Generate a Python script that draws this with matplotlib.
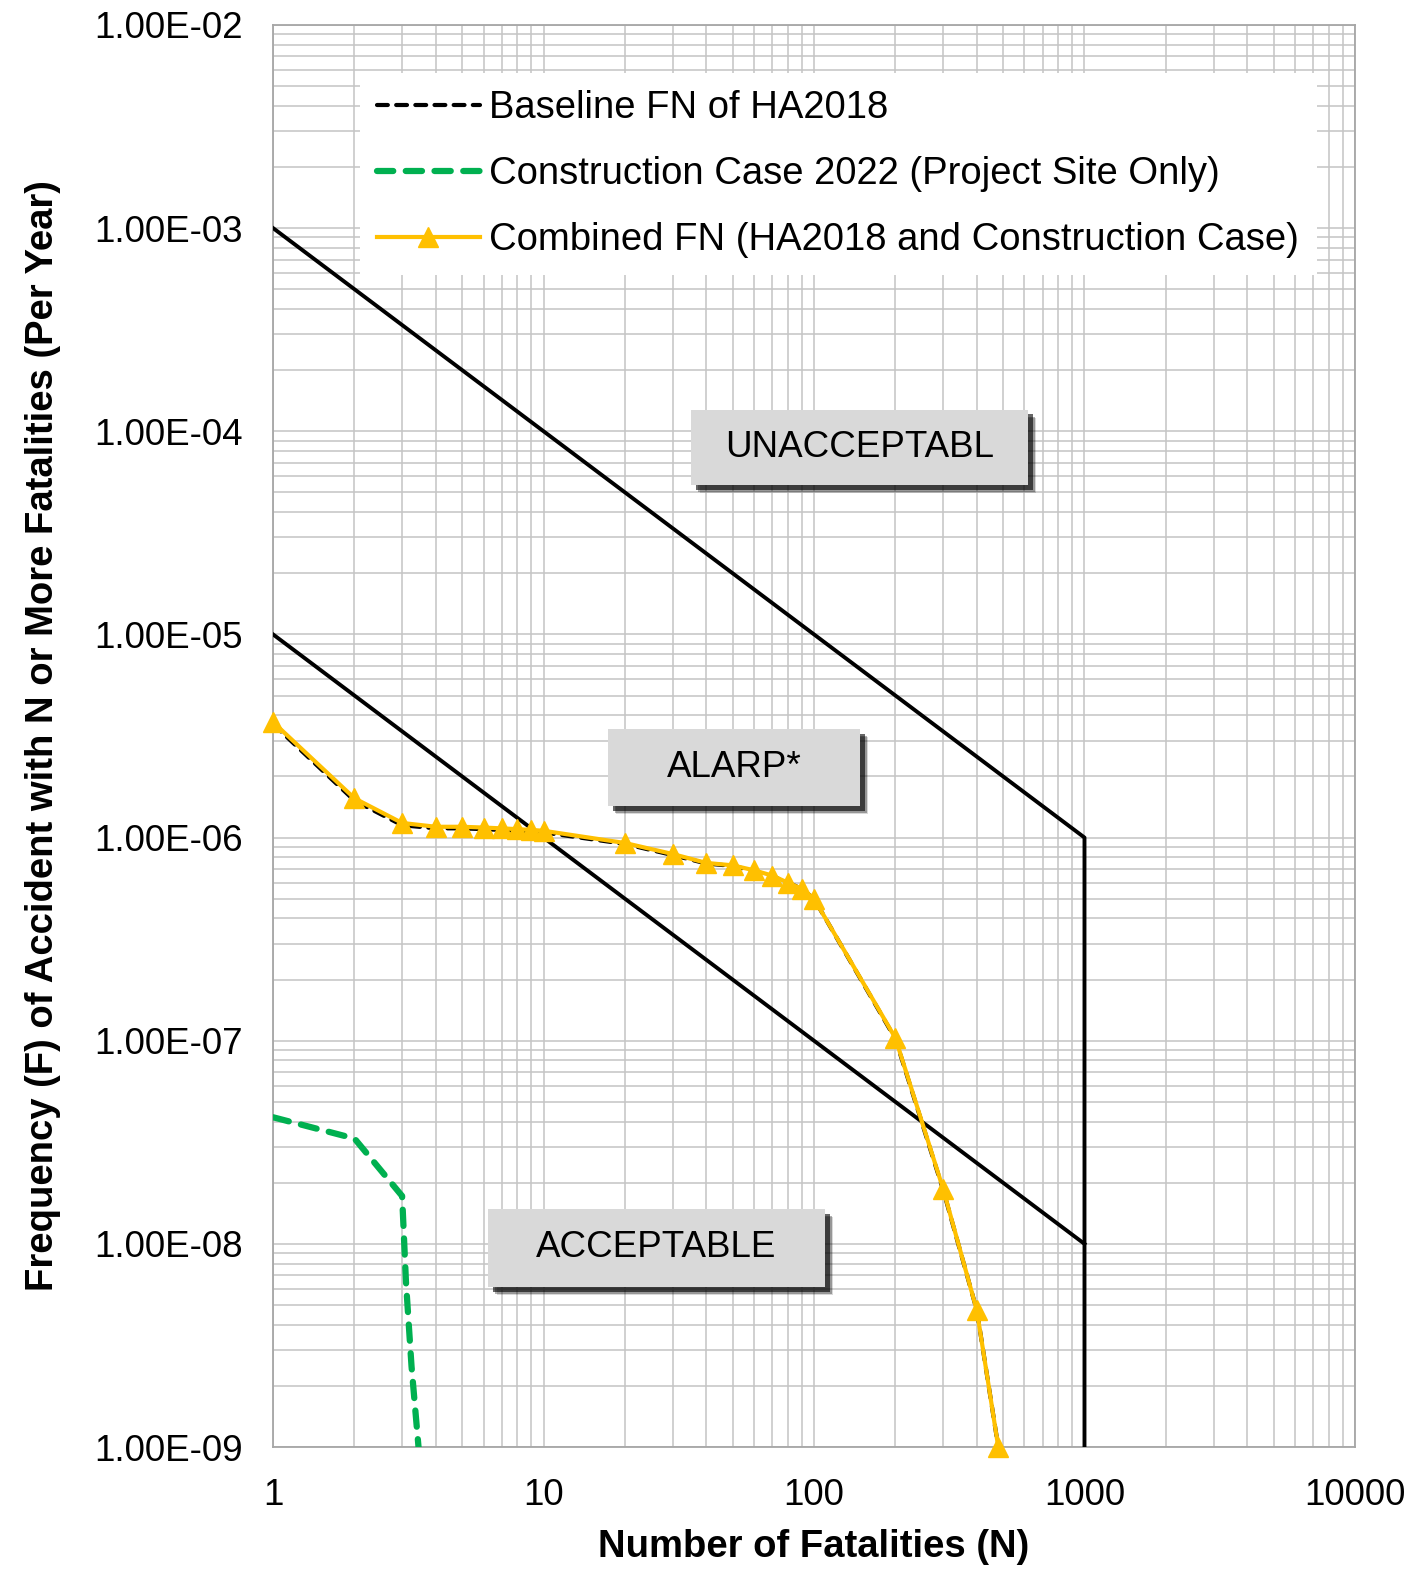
import matplotlib.pyplot as plt
import matplotlib.patheffects as pe
from matplotlib.patches import Rectangle
from matplotlib.ticker import FuncFormatter, LogLocator, FixedLocator

plt.rcParams['font.family'] = ['Liberation Sans', 'DejaVu Sans']

# FN curves
n_fn = [1, 2, 3, 4, 5, 6, 7, 8, 9, 10, 20, 30, 40, 50, 60, 70, 80, 90, 100, 200, 300, 400, 480]
f_base = [3.62e-6, 1.52e-6, 1.15e-6, 1.11e-6, 1.11e-6, 1.10e-6, 1.09e-6, 1.08e-6, 1.07e-6, 1.06e-6,
          9.3e-7, 8.2e-7, 7.45e-7, 7.25e-7, 6.85e-7, 6.45e-7, 6.0e-7, 5.6e-7, 5.0e-7,
          1.02e-7, 1.85e-8, 4.7e-9, 1.0e-9]
f_comb = [3.70e-6, 1.56e-6, 1.18e-6, 1.13e-6, 1.13e-6, 1.12e-6, 1.11e-6, 1.10e-6, 1.09e-6, 1.08e-6,
          9.4e-7, 8.3e-7, 7.5e-7, 7.3e-7, 6.9e-7, 6.5e-7, 6.0e-7, 5.6e-7, 5.0e-7,
          1.03e-7, 1.87e-8, 4.7e-9, 1.0e-9]

n_con = [1, 2, 3, 3.1, 3.25, 3.5]
f_con = [4.2e-8, 3.3e-8, 1.72e-8, 6.5e-9, 2.5e-9, 8e-10]

# criterion lines
n_upper = [1, 1000, 1000]
f_upper = [1e-3, 1e-6, 1e-9]
n_lower = [1, 1000]
f_lower = [1e-5, 1e-8]

x_ticks = [1, 10, 100, 1000, 10000]
y_ticks = [1e-9, 1e-8, 1e-7, 1e-6, 1e-5, 1e-4, 1e-3, 1e-2]

fig = plt.figure(figsize=(14.2, 15.78), dpi=100)
ax = fig.add_axes([0.1923, 0.0830, 0.7619, 0.9012])
ax.set_xscale('log')
ax.set_yscale('log')
ax.set_xlim(1, 10000)
ax.set_ylim(1e-9, 1e-2)

gc = '#c4c4c4'
ax.xaxis.set_major_locator(FixedLocator(x_ticks))
ax.yaxis.set_major_locator(FixedLocator(y_ticks))
ax.xaxis.set_minor_locator(LogLocator(base=10, subs=range(2, 10), numticks=20))
ax.yaxis.set_minor_locator(LogLocator(base=10, subs=range(2, 10), numticks=20))
ax.grid(True, which='both', color=gc, linewidth=1.1)
ax.set_axisbelow(True)
for s in ax.spines.values():
    s.set_color('#a6a6a6')
    s.set_linewidth(1.3)
ax.tick_params(which='both', length=0)
ax.tick_params(axis='x', pad=22, labelsize=26.5)
ax.tick_params(axis='y', pad=22, labelsize=26.5)
ax.xaxis.set_major_formatter(FuncFormatter(lambda v, p: f'{v:g}' if v < 1e4 else '10000'))
ax.yaxis.set_major_formatter(FuncFormatter(lambda v, p: f'{v:.2E}'))
ax.xaxis.set_minor_formatter(FuncFormatter(lambda v, p: ''))
ax.yaxis.set_minor_formatter(FuncFormatter(lambda v, p: ''))

ax.plot(n_upper, f_upper, color='black', linewidth=2.8, zorder=3)
ax.plot(n_lower, f_lower, color='black', linewidth=2.8, zorder=3)

l_con, = ax.plot(n_con, f_con, color='#00b050', linewidth=4.5, linestyle=(0, (2.6, 2)),
                 dash_capstyle='round', zorder=4)
l_base, = ax.plot(n_fn, f_base, color='black', linewidth=3, linestyle=(0, (2.6, 2)),
                  dash_capstyle='round', zorder=4)
l_comb, = ax.plot(n_fn, f_comb, color='#ffc000', linewidth=3, marker='^', markersize=14,
                  zorder=5, clip_on=False)

leg = ax.legend([l_base, l_con, l_comb],
                ['Baseline FN of HA2018', 'Construction Case 2022 (Project Site Only)',
                 'Combined FN (HA2018 and Construction Case)'],
                loc='upper left', bbox_to_anchor=(0.080, 0.966), borderaxespad=0, fontsize=27.5,
                frameon=True, facecolor='white', edgecolor='none', framealpha=1,
                fancybox=False, handlelength=2.7, handletextpad=0.25, labelspacing=0.78,
                borderpad=0.45)
leg.set_zorder(6)

# region boxes
boxes = [('UNACCEPTABL', 0.542, 0.703, 0.311, 0.053),
         ('ALARP*', 0.426, 0.478, 0.233, 0.054),
         ('ACCEPTABLE', 0.3544, 0.140, 0.311, 0.055)]
shadow = [pe.SimplePatchShadow(offset=(6, -6), shadow_rgbFace='black', alpha=0.15),
          pe.SimplePatchShadow(offset=(5, -5), shadow_rgbFace='black', alpha=0.3),
          pe.SimplePatchShadow(offset=(3.5, -3.5), shadow_rgbFace='black', alpha=0.6),
          pe.Normal()]
for txt, cx, cy, w, hgt in boxes:
    r = Rectangle((cx - w / 2, cy - hgt / 2), w, hgt, transform=ax.transAxes,
                  facecolor='#d9d9d9', edgecolor='none', zorder=6, path_effects=shadow)
    ax.add_patch(r)
    ax.text(cx, cy, txt, transform=ax.transAxes, ha='center', va='center',
            fontsize=26.5, zorder=7)

ax.set_xlabel('Number of Fatalities (N)', fontsize=27.5, fontweight='bold', labelpad=12)
ax.set_ylabel('Frequency (F) of Accident with N or More Fatalities (Per Year)',
              fontsize=27.5, fontweight='bold', labelpad=24)

fig.savefig('out.png', dpi=100)
